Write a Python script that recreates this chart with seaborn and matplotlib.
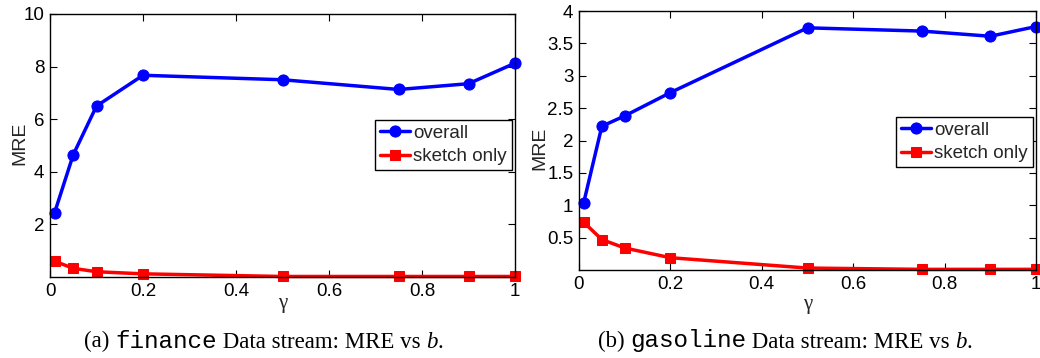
import numpy as np
import pandas as pd
import matplotlib
matplotlib.use("Agg")
import matplotlib.pyplot as plt
import seaborn as sns
from matplotlib.offsetbox import TextArea, HPacker, AnnotationBbox

# ---- data ----
gamma = [0.01, 0.05, 0.1, 0.2, 0.5, 0.75, 0.9, 1.0]
finance_overall = [2.45, 4.65, 6.5, 7.67, 7.5, 7.13, 7.35, 8.13]
finance_sketch = [0.6, 0.33, 0.2, 0.12, 0.02, 0.02, 0.02, 0.02]
gasoline_overall = [1.03, 2.22, 2.38, 2.74, 3.74, 3.69, 3.61, 3.76]
gasoline_sketch = [0.74, 0.47, 0.34, 0.19, 0.03, 0.01, 0.01, 0.01]
xticks = [0, 0.2, 0.4, 0.6, 0.8, 1]
xticklabels = ["0", "0.2", "0.4", "0.6", "0.8", "1"]
yticks_a = [2, 4, 6, 8, 10]
yticklabels_a = ["2", "4", "6", "8", "10"]
yticks_b = [0.5, 1, 1.5, 2, 2.5, 3, 3.5, 4]
yticklabels_b = ["0.5", "1", "1.5", "2", "2.5", "3", "3.5", "4"]
series_labels = ["overall", "sketch only"]

sns.set_style("ticks")
plt.rcParams["font.family"] = ["Liberation Sans", "DejaVu Sans"]

fig = plt.figure(figsize=(10.4, 3.58), dpi=100)
W, H = 1040, 358

def axes_px(x0, x1, y0, y1):
    return fig.add_axes([x0 / W, 1 - y1 / H, (x1 - x0) / W, (y1 - y0) / H])

ax1 = axes_px(50, 515, 14, 277)
ax2 = axes_px(579, 1036, 11, 270)

def draw(ax, overall, sketch, ylim, yt, ytl, anchor, ylab_xy, xlab_xy):
    sns.lineplot(x=gamma, y=overall, ax=ax, color="#0000ff", marker="o",
                 markersize=8, linewidth=2.5, markeredgecolor="#0000ff",
                 label=series_labels[0], clip_on=False)
    sns.lineplot(x=gamma, y=sketch, ax=ax, color="#ff0000", marker="s",
                 markersize=7, linewidth=2.5, markeredgecolor="#ff0000",
                 label=series_labels[1], clip_on=False)
    ax.set_xlim(0, 1)
    ax.set_ylim(*ylim)
    ax.set_xticks(xticks)
    ax.set_xticklabels(xticklabels)
    ax.set_yticks(yt)
    ax.set_yticklabels(ytl)
    ax.tick_params(direction="in", top=True, right=True, length=5,
                   width=0.8, labelsize=13.5, colors="black", pad=4)
    for s in ax.spines.values():
        s.set_visible(True)
        s.set_color("black")
        s.set_linewidth(1.0)
    ax.set_ylabel("MRE", fontsize=14)
    ax.yaxis.set_label_coords(*ylab_xy)
    ax.set_xlabel("γ", fontsize=15, family=["Liberation Serif", "DejaVu Serif"])
    ax.xaxis.set_label_coords(*xlab_xy)
    leg = ax.legend(loc="upper right", bbox_to_anchor=anchor, fontsize=13.5,
                    frameon=True, fancybox=False, framealpha=1,
                    edgecolor="black", handlelength=1.6, handletextpad=0.2,
                    borderpad=0.25, labelspacing=0.35, borderaxespad=0)
    leg.get_frame().set_linewidth(1.0)

draw(ax1, finance_overall, finance_sketch, (0, 10), yticks_a, yticklabels_a,
     (0.993, 0.597), (-0.047, 0.51), (0.5, -0.066))
draw(ax2, gasoline_overall, gasoline_sketch, (0, 4), yticks_b, yticklabels_b,
     (0.993, 0.591), (-0.066, 0.47), (0.5, -0.095))

def caption(letter, mono, cx, cy):
    serif = dict(family=["Liberation Serif"], size=16.5, color="black")
    monop = dict(family=["Liberation Mono"], size=17.5, color="black")
    ital = dict(family=["Liberation Serif"], size=16.5, style="italic", color="black")
    parts = [TextArea(f"({letter})\u00a0", textprops=serif),
             TextArea(mono, textprops=monop),
             TextArea("\u00a0Data stream: MRE vs\u00a0", textprops=serif),
             TextArea("b", textprops=ital),
             TextArea(".", textprops=serif)]
    box = HPacker(children=parts, align="baseline", pad=0, sep=0)
    ab = AnnotationBbox(box, (cx / W, 1 - cy / H), xycoords="figure fraction",
                        frameon=False, box_alignment=(0.5, 0.5), pad=0)
    fig.add_artist(ab)

caption("a", "finance", 264, 341)
caption("b", "gasoline", 785, 341)

fig.savefig("out.png", dpi=100)
